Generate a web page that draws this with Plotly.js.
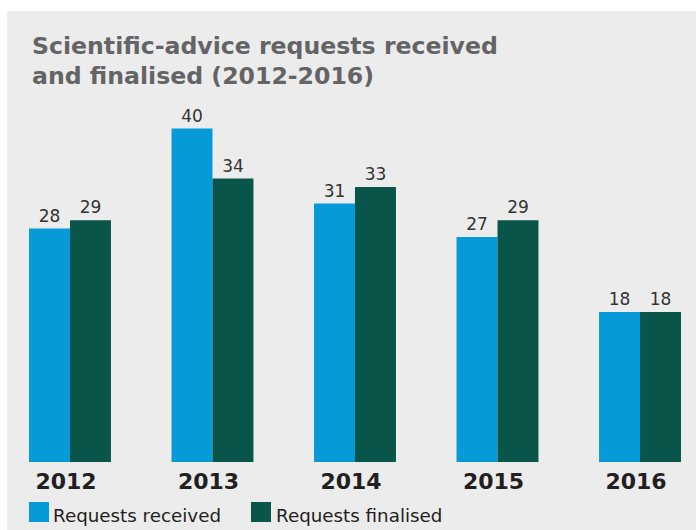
<!DOCTYPE html>
<html><head><meta charset="utf-8">
<script src="https://cdn.plot.ly/plotly-3.0.1.min.js"></script>
<style>html,body{margin:0;padding:0;background:#fff;}#chart{position:absolute;left:7px;top:11px;width:689px;height:519px;}</style>
</head><body><div id="chart"></div>
<script>
const years = ['2012','2013','2014','2015','2016'];
const received = [28, 40, 31, 27, 18];
const finalised = [29, 34, 33, 29, 18];
const seriesNames = ['Requests received', 'Requests finalised'];
const titleLines = ['Scientific-advice requests received', 'and finalised (2012-2016)'];
const colors = ['#069ad8', '#0a5549'];

const font = 'DejaVu Sans, Verdana, sans-serif';
const traces = [received, finalised].map((v, i) => ({
  type: 'bar', x: years, y: v, name: seriesNames[i],
  marker: {color: colors[i], line: {width: 0}},
  text: v.map(String), textposition: 'outside', cliponaxis: false,
  textfont: {family: font, size: 17, color: '#333333'},
  hoverinfo: 'none'
}));

// plot area in page px: x 7..696, y 11..462
const px = x => (x - 7) / 689;
const py = y => (462 - y) / 451;
const shapes = [], annotations = [];
const legSq = [29, 251], legTx = [51, 274];
seriesNames.forEach((n, i) => {
  shapes.push({type: 'rect', xref: 'paper', yref: 'paper',
    x0: px(legSq[i]), x1: px(legSq[i] + 20), y0: py(522), y1: py(502),
    fillcolor: colors[i], line: {width: 0}});
  annotations.push({xref: 'paper', yref: 'paper', x: px(legTx[i]), y: py(516),
    xanchor: 'left', yanchor: 'middle', showarrow: false, text: n,
    font: {family: font, size: 18.3, color: '#231f20'}});
});
const titleY = [46, 76];
titleLines.forEach((t, i) => {
  annotations.push({xref: 'paper', yref: 'paper', x: px(30), y: py(titleY[i]),
    xanchor: 'left', yanchor: 'middle', showarrow: false, text: '<b>' + t + '</b>',
    font: {family: font, size: 23.6, color: '#646466'}});
});

const layout = {
  width: 689, height: 519,
  paper_bgcolor: '#ececec', plot_bgcolor: 'rgba(0,0,0,0)',
  margin: {l: 0, r: 0, t: 0, b: 68},
  showlegend: false,
  barmode: 'group', bargap: 0.425, bargroupgap: 0,
  xaxis: {type: 'category', range: [-0.442, 4.393], showgrid: false, zeroline: false, showline: false,
    ticks: '', ticklabelshift: -4, ticklabelstandoff: 4,
    tickfont: {family: font, size: 22, color: '#231f20', weight: 'bold'}, fixedrange: true},
  yaxis: {range: [0, 54.1], visible: false, fixedrange: true},
  shapes: shapes, annotations: annotations
};
Plotly.newPlot('chart', traces, layout, {displayModeBar: false, staticPlot: true});
</script></body></html>
